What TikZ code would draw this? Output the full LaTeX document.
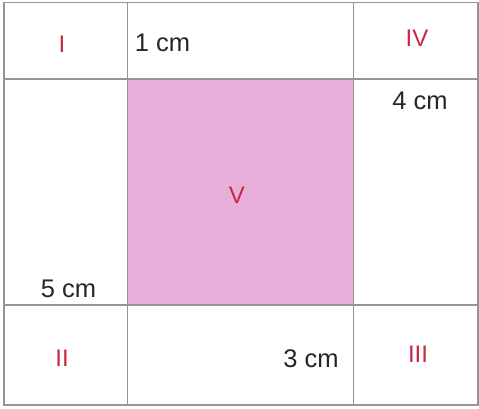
\documentclass[tikz,border=0pt]{standalone}
\usepackage{fontspec}
\setmainfont{Liberation Sans}
\definecolor{sqpink}{HTML}{EAAEDB}
\definecolor{lblred}{HTML}{C62845}
\definecolor{gridgray}{HTML}{959595}
\begin{document}
\begin{tikzpicture}[x=1pt,y=-1pt,
  gridline/.style={draw=gridgray,line width=1.3pt},
  roman/.style={text=lblred,font=\fontsize{24}{27}\selectfont,inner sep=0pt},
  measure/.style={text=black!85,font=\fontsize{25.5}{28}\selectfont,inner sep=0pt}]
\useasboundingbox (0,0) rectangle (479,408);
\fill[sqpink] (127.5,79) rectangle (353.5,305);
\draw[gridline] (4,2.5) rectangle (478,405);
\draw[gridline] (127.5,2.5) -- (127.5,405);
\draw[gridline] (353.5,2.5) -- (353.5,405);
\draw[gridline] (4,79) -- (478,79);
\draw[gridline] (4,305) -- (478,305);
\node[roman] (r1) at (62,44) {I};
\node[roman] (r4) at (417,38) {IV};
\node[roman] (r5) at (237,195) {V};
\node[roman] (r2) at (62,358) {II};
\node[roman] (r3) at (418,354) {III};
\node[measure] (m1) at (162.5,43) {1 cm};
\node[measure] (m4) at (420,101) {4 cm};
\node[measure] (m5) at (68.5,289) {5 cm};
\node[measure] (m3) at (311,359) {3 cm};
\end{tikzpicture}
\end{document}
